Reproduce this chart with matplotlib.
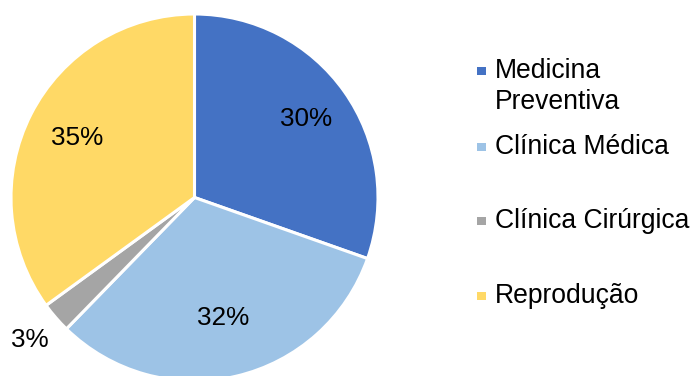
import matplotlib
matplotlib.use("Agg")
import matplotlib.pyplot as plt
from matplotlib.patches import Rectangle
import numpy as np

categories = ["Medicina\nPreventiva", "Clínica Médica", "Clínica Cirúrgica", "Reprodução"]
values = [30.4, 31.9, 2.7, 35.0]
labels = ["30%", "32%", "3%", "35%"]
colors = ["#4472C4", "#9DC3E6", "#A5A5A5", "#FFD966"]
label_dist = [0.745, 0.675, 1.19, 0.72]

W, H = 692, 376
fig = plt.figure(figsize=(W / 100, H / 100), dpi=100, facecolor="white")
plt.rcParams['font.family'] = ['Liberation Sans', 'DejaVu Sans']

cx, cy, r = 194.5, 197.5, 183.5  # pixels from top-left
ax = fig.add_axes([(cx - r) / W, (H - cy - r) / H, 2 * r / W, 2 * r / H])
wedges, _ = ax.pie(values, colors=colors, startangle=90, counterclock=False,
                   wedgeprops=dict(edgecolor="white", linewidth=2.2), radius=1.0)
ax.set_xlim(-1, 1)
ax.set_ylim(-1, 1)
ax.set_aspect("equal", adjustable="box")
ax.axis("off")
for w in wedges:
    w.set_clip_on(False)

for w, lab, d in zip(wedges, labels, label_dist):
    ang = np.deg2rad((w.theta1 + w.theta2) / 2)
    ax.text(d * np.cos(ang), d * np.sin(ang), lab, ha="center", va="center",
            fontsize=18.8, color="#000000", clip_on=False)

# legend drawn manually
first_baselines = [78, 154, 228, 303]
line_gap = 31
fs = 19.1
for cat, col, yb in zip(categories, colors, first_baselines):
    sq = 8.5
    sq_cy = yb - 7
    fig.add_artist(Rectangle((477 / W, (H - sq_cy - sq / 2) / H), sq / W, sq / H,
                             transform=fig.transFigure, facecolor=col, edgecolor="none"))
    for i, line in enumerate(cat.split("\n")):
        fig.text(495 / W, (H - (yb + i * line_gap)) / H, line, ha="left", va="baseline",
                 fontsize=fs, color="#000000")

fig.savefig("out.png", dpi=100, facecolor="white")
